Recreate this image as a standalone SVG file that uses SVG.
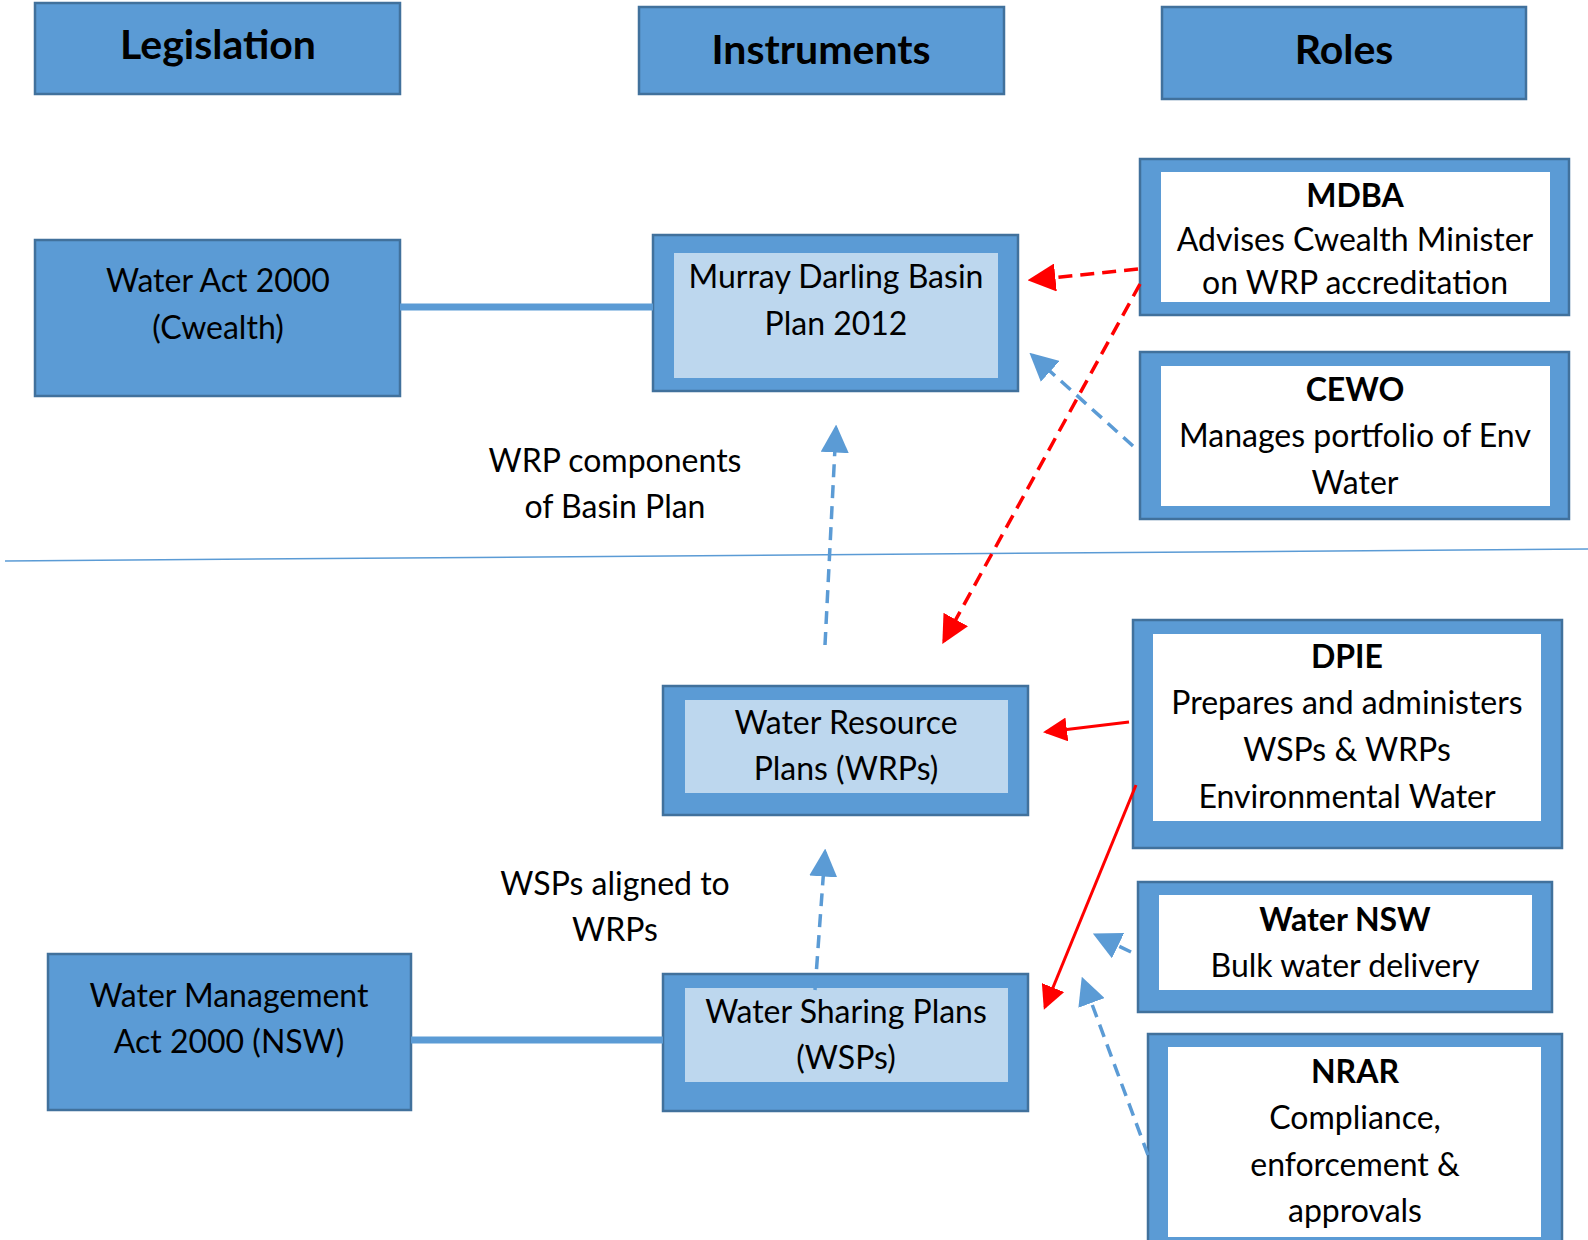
<svg xmlns="http://www.w3.org/2000/svg" width="1588" height="1240" viewBox="0 0 1588 1240">
<defs>
<style>
.box{fill:#5B9BD5;stroke:#41719C;stroke-width:2.5}
.inL{fill:#BDD7EE}
.inW{fill:#FFFFFF}
text{font-family:Lato,"Open Sans",sans-serif;font-size:32px;fill:#000;text-anchor:middle}
.h{font-weight:bold;font-size:41px}
.b{font-weight:bold}
.bar{stroke:#5B9BD5;stroke-width:7;fill:none}
.rd{stroke:#FF0000;stroke-width:3.5;fill:none;stroke-dasharray:14 8}
.rs{stroke:#FF0000;stroke-width:3;fill:none}
.bd{stroke:#5B9BD5;stroke-width:3.5;fill:none;stroke-dasharray:13 8}
</style>
<marker id="ar" markerWidth="8" markerHeight="8" refX="7" refY="4" orient="auto" markerUnits="strokeWidth"><path d="M0,0 L8,4 L0,8 Z" fill="#FF0000"/></marker>
<marker id="ab" markerWidth="8" markerHeight="8" refX="7" refY="4" orient="auto" markerUnits="strokeWidth"><path d="M0,0 L8,4 L0,8 Z" fill="#5B9BD5"/></marker>
</defs>

<line x1="5" y1="561" x2="1588" y2="549" stroke="#5B9BD5" stroke-width="1.5"/>

<g id="hdr-legislation"><rect class="box" x="35" y="3" width="365" height="91"/><text class="h" x="218" y="59">Legislation</text></g>
<g id="hdr-instruments"><rect class="box" x="639" y="7" width="365" height="87"/><text class="h" x="821" y="64">Instruments</text></g>
<g id="hdr-roles"><rect class="box" x="1162" y="7" width="364" height="92"/><text class="h" x="1344" y="64">Roles</text></g>

<g id="water-act"><rect class="box" x="35" y="240" width="365" height="156"/><text x="218" y="292">Water Act 2000</text><text x="218" y="339">(Cwealth)</text></g>
<g id="wma"><rect class="box" x="48" y="954" width="363" height="156"/><text x="229" y="1007">Water Management</text><text x="229" y="1053">Act 2000 (NSW)</text></g>

<g id="mdbp"><rect class="box" x="653" y="235" width="365" height="156"/><rect class="inL" x="674" y="253" width="324" height="125"/><text x="836" y="288">Murray Darling Basin</text><text x="836" y="335">Plan 2012</text></g>
<g id="wrp"><rect class="box" x="663" y="686" width="365" height="129"/><rect class="inL" x="685" y="700" width="323" height="93"/><text x="846" y="734">Water Resource</text><text x="846" y="780">Plans (WRPs)</text></g>
<g id="wsp"><rect class="box" x="663" y="974" width="365" height="137"/><rect class="inL" x="685" y="988" width="323" height="94"/><text x="846" y="1023">Water Sharing Plans</text><text x="846" y="1069">(WSPs)</text></g>

<g id="mdba"><rect class="box" x="1140" y="159" width="429" height="156"/><rect class="inW" x="1161" y="172" width="389" height="130"/><text class="b" x="1355" y="207">MDBA</text><text x="1355" y="251">Advises Cwealth Minister</text><text x="1355" y="294">on WRP accreditation</text></g>
<g id="cewo"><rect class="box" x="1140" y="352" width="429" height="167"/><rect class="inW" x="1161" y="366" width="389" height="140"/><text class="b" x="1355" y="401">CEWO</text><text x="1355" y="447">Manages portfolio of Env</text><text x="1355" y="494">Water</text></g>
<g id="dpie"><rect class="box" x="1133" y="620" width="429" height="228"/><rect class="inW" x="1153" y="634" width="388" height="187"/><text class="b" x="1347" y="668">DPIE</text><text x="1347" y="714">Prepares and administers</text><text x="1347" y="761">WSPs &amp; WRPs</text><text x="1347" y="808">Environmental Water</text></g>
<g id="waternsw"><rect class="box" x="1138" y="882" width="414" height="130"/><rect class="inW" x="1159" y="895" width="373" height="95"/><text class="b" x="1345" y="931">Water NSW</text><text x="1345" y="977">Bulk water delivery</text></g>
<g id="nrar"><rect class="box" x="1148" y="1034" width="414" height="210"/><rect class="inW" x="1168" y="1047" width="373" height="190"/><text class="b" x="1355" y="1083">NRAR</text><text x="1355" y="1129">Compliance,</text><text x="1355" y="1176">enforcement &amp;</text><text x="1355" y="1222">approvals</text></g>

<g id="labels"><text x="615" y="472">WRP components</text><text x="615" y="518">of Basin Plan</text><text x="615" y="895">WSPs aligned to</text><text x="615" y="941">WRPs</text></g>

<g id="connectors">
<line class="bar" x1="400" y1="307" x2="653" y2="307"/>
<line class="bar" x1="411" y1="1040" x2="663" y2="1040"/>
<line class="bd" x1="825" y1="645" x2="836" y2="428" marker-end="url(#ab)"/>
<line class="bd" x1="815" y1="990" x2="825" y2="852" marker-end="url(#ab)"/>
<line class="bd" x1="1133" y1="446" x2="1032" y2="355" marker-end="url(#ab)"/>
<line class="bd" x1="1131" y1="952" x2="1096" y2="935" marker-end="url(#ab)"/>
<line class="bd" x1="1148" y1="1155" x2="1083" y2="980" marker-end="url(#ab)"/>
<line class="rd" x1="1138" y1="269" x2="1031" y2="280" marker-end="url(#ar)"/>
<line class="rd" x1="1140" y1="284" x2="944" y2="641" marker-end="url(#ar)"/>
<line class="rs" x1="1129" y1="722" x2="1046" y2="732" marker-end="url(#ar)"/>
<line class="rs" x1="1136" y1="785" x2="1045" y2="1007" marker-end="url(#ar)"/>
</g>
</svg>
